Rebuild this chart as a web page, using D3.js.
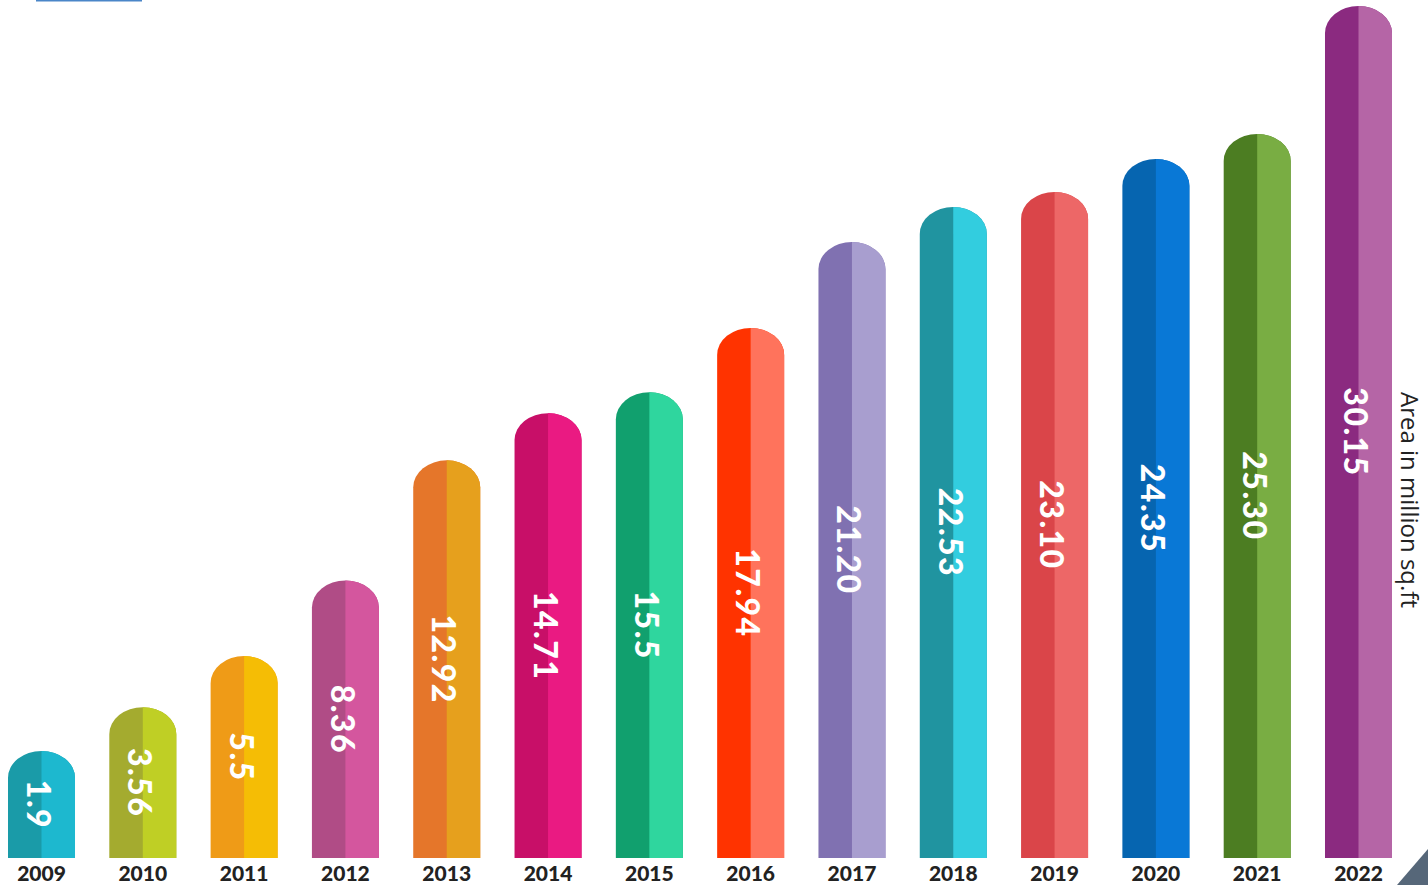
<!DOCTYPE html>
<html>
<head>
<meta charset="utf-8">
<script src="https://cdn.jsdelivr.net/npm/d3@7"></script>
<style>
  body { margin: 0; background: #fff; overflow: hidden; }
  svg { display: block; }
</style>
</head>
<body>
<script>
let years = ["2009", "2010", "2011", "2012", "2013", "2014", "2015", "2016", "2017", "2018", "2019", "2020", "2021", "2022"];
let values = [1.9, 3.56, 5.5, 8.36, 12.92, 14.71, 15.5, 17.94, 21.2, 22.53, 23.1, 24.35, 25.3, 30.15];
let valueLabels = ["1.9", "3.56", "5.5", "8.36", "12.92", "14.71", "15.5", "17.94", "21.20", "22.53", "23.10", "24.35", "25.30", "30.15"];
let axisTitle = "Area in million sq.ft";

// left (shade) and right (light) half of each bar
let darkColors = ["#1a9ba8", "#a4ab2f", "#ef9b17", "#b04c86", "#e5762a", "#c80f68", "#11a06e", "#ff3300", "#8071b1", "#2094a0", "#da4549", "#0665b0", "#4c7d22", "#8b2a80"];
let lightColors = ["#1db8cf", "#bfcf25", "#f5bd05", "#d4569e", "#e6a01d", "#ea1a82", "#2fd69e", "#ff735c", "#a89ecf", "#32cddf", "#ed6767", "#0978d6", "#79ad43", "#b565a6"];

let width = 1428,
    height = 885,
    base = 858;

let svg = d3.select("body").append("svg")
    .attr("width", width)
    .attr("height", height);

let x = d3.scaleBand()
    .domain(years)
    .range([8, 1392])
    .paddingInner(0.3386)
    .paddingOuter(0);

// bars keep a minimum stub height under the value
let y = d3.scaleLinear()
    .domain([0, d3.max(values)])
    .range([801, 6]);

let ry = 27;

let data = years.map((yr, i) => ({
    year: yr,
    value: values[i],
    label: valueLabels[i],
    dark: darkColors[i],
    light: lightColors[i]
}));

function fullBar(d) {
    let x0 = x(d.year), rx = x.bandwidth() / 2, top = y(d.value);
    return `M${x0},${base} L${x0},${top + ry} A${rx},${ry} 0 0 1 ${x0 + 2 * rx},${top + ry} L${x0 + 2 * rx},${base} Z`;
}

function rightHalf(d) {
    let x0 = x(d.year), rx = x.bandwidth() / 2, cx = x0 + rx, top = y(d.value);
    return `M${cx},${top} A${rx},${ry} 0 0 1 ${cx + rx},${top + ry} L${cx + rx},${base} L${cx},${base} Z`;
}

let bar = svg.selectAll(".bar")
    .data(data)
    .enter().append("g")
    .attr("class", "bar");

bar.append("path")
    .attr("d", fullBar)
    .attr("fill", d => d.dark);

bar.append("path")
    .attr("d", rightHalf)
    .attr("fill", d => d.light);

bar.append("text")
    .attr("transform", d => `translate(${x(d.year) + x.bandwidth() / 2 - 2},${(y(d.value) + base) / 2}) rotate(90)`)
    .attr("text-anchor", "middle")
    .attr("dominant-baseline", "central")
    .attr("fill", "#fff")
    .style("font-family", "Lato, 'Open Sans', sans-serif")
    .style("font-weight", "900")
    .style("font-size", "32px")
    .style("letter-spacing", "1.5px")
    .text(d => d.label);

bar.append("text")
    .attr("x", d => x(d.year) + x.bandwidth() / 2)
    .attr("y", 881)
    .attr("text-anchor", "middle")
    .attr("fill", "#222")
    .style("font-family", "Lato, 'Open Sans', sans-serif")
    .style("font-weight", "900")
    .style("font-size", "21px")
    .text(d => d.year);

svg.append("text")
    .attr("transform", "translate(1410,500) rotate(90)")
    .attr("text-anchor", "middle")
    .attr("dominant-baseline", "central")
    .attr("fill", "#222")
    .style("font-family", "'Open Sans', sans-serif")
    .style("font-size", "24px")
    .text(axisTitle);

// decorations
svg.append("rect")
    .attr("x", 36)
    .attr("y", 0)
    .attr("width", 106)
    .attr("height", 1.5)
    .attr("fill", "#4a86c8");

svg.append("path")
    .attr("d", "M1397,885 L1428,849 L1428,885 Z")
    .attr("fill", "#566779");
</script>
</body>
</html>
